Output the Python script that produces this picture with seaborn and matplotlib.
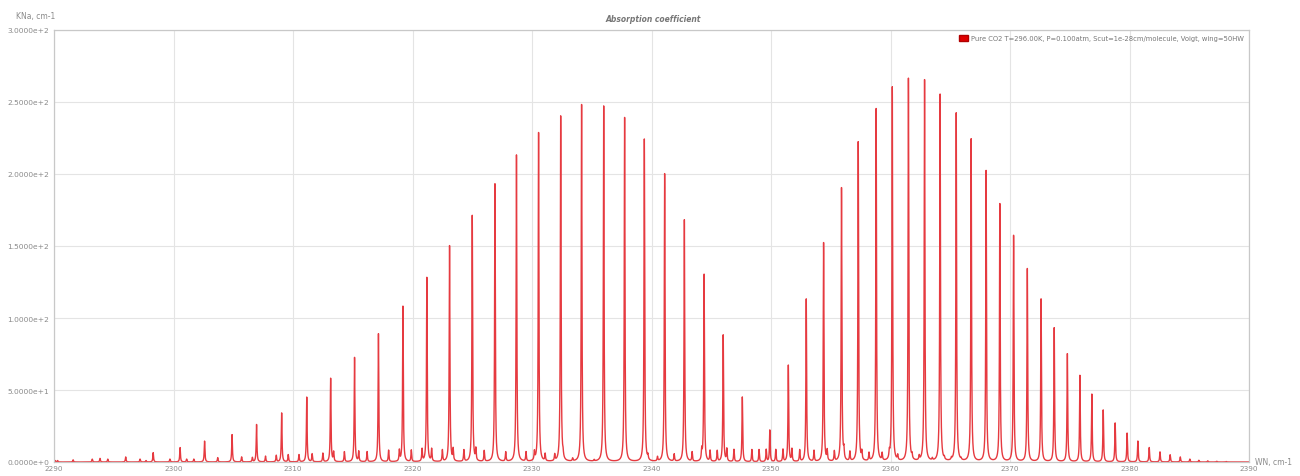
import numpy as np
import pandas as pd
import matplotlib
matplotlib.use("Agg")
import matplotlib.pyplot as plt
import matplotlib.patches as mpatches
import seaborn as sns

# ---- data ----
# main band (P and R branch) line centres [cm-1] and peak absorption [cm-1]
main_wn = [2290.1, 2291.6, 2293.85, 2296.0, 2298.3, 2300.55, 2302.6, 2304.9, 2306.95, 2309.05,
           2311.15, 2313.15, 2315.15, 2317.15, 2319.2, 2321.2, 2323.1, 2325.0, 2326.9, 2328.7,
           2330.55, 2332.4, 2334.15, 2336.0, 2337.75, 2339.4, 2341.1, 2342.75, 2344.4, 2346.0,
           2347.6,
           2349.9, 2351.45, 2352.95, 2354.4, 2355.9, 2357.3, 2358.8, 2360.15, 2361.5, 2362.85,
           2364.15, 2365.5, 2366.75, 2368.0, 2369.15, 2370.3, 2371.45, 2372.6, 2373.7, 2374.8,
           2375.85, 2376.85, 2377.8, 2378.8, 2379.8, 2380.7, 2381.65, 2382.55, 2383.4, 2384.25,
           2385.05, 2385.8, 2386.55, 2387.3, 2388.1]
main_k = [1.0, 1.5, 2.5, 3.5, 6.5, 10.0, 14.5, 19.0, 26.0, 34.0,
          45.0, 58.0, 72.5, 89.0, 108.0, 128.0, 150.0, 171.0, 193.0, 213.0,
          228.5, 240.0, 248.0, 247.0, 239.0, 224.0, 200.0, 168.0, 130.0, 88.0,
          45.0,
          22.0, 67.0, 113.0, 152.0, 190.0, 222.0, 245.0, 260.0, 266.0, 265.0,
          255.0, 242.0, 224.0, 202.0, 179.0, 157.0, 134.0, 113.0, 93.0, 75.0,
          60.0, 47.0, 36.0, 27.0, 20.0, 14.5, 10.0, 7.0, 5.0, 3.5,
          2.0, 1.2, 0.8, 0.5, 0.3]

# weak (hot band) lines
weak_wn = [2290.3, 2293.2, 2294.5, 2297.2, 2297.7, 2299.7, 2301.1, 2301.7, 2303.7, 2305.7,
           2306.6, 2307.7, 2308.6, 2309.6, 2310.5, 2311.6, 2312.5, 2313.4, 2314.3, 2315.5,
           2316.2, 2318.0, 2318.9, 2319.9, 2320.8, 2321.6, 2322.5, 2323.4, 2324.3, 2325.3,
           2326.0, 2327.8, 2329.5, 2330.2, 2331.1, 2331.9, 2332.6, 2333.4, 2335.2,
           2339.7, 2340.5, 2341.9, 2343.4, 2344.2, 2344.9, 2345.5, 2346.3, 2346.9, 2348.4,
           2349.0, 2349.6, 2350.4, 2351.0, 2351.75, 2352.4, 2353.6, 2354.7, 2355.3, 2356.1,
           2356.6, 2357.6, 2358.2, 2359.3, 2359.9, 2360.6, 2361.8, 2362.4, 2363.5, 2364.5,
           2365.1, 2365.9]
weak_k = [1.0, 2.0, 2.0, 2.0, 1.0, 2.0, 2.0, 2.0, 3.0, 3.5,
          3.0, 4.0, 4.5, 5.0, 5.0, 5.5, 6.0, 6.5, 7.0, 7.0,
          7.0, 8.0, 7.5, 8.0, 8.5, 8.5, 8.0, 8.0, 8.0, 8.0,
          7.5, 6.5, 6.5, 6.0, 5.0, 4.5, 3.0, 2.0, 1.0,
          3.0, 3.0, 5.0, 6.5, 7.0, 7.5, 7.5, 8.5, 8.5, 8.5,
          8.5, 8.5, 8.5, 8.5, 8.5, 8.0, 7.5, 7.0, 7.0, 6.5,
          6.5, 5.5, 5.5, 5.0, 4.5, 3.5, 3.0, 3.0, 1.5, 1.5,
          1.5, 1.0]

x_ticks = [2290, 2300, 2310, 2320, 2330, 2340, 2350, 2360, 2370, 2380, 2390]
y_ticks = [0, 50, 100, 150, 200, 250, 300]
y_tick_labels = ["0.0000e+0", "5.0000e+1", "1.0000e+2", "1.5000e+2",
                 "2.0000e+2", "2.5000e+2", "3.0000e+2"]
title = "Absorption coefficient"
y_label = "KNa, cm-1"
x_label = "WN, cm-1"
legend_label = "Pure CO2 T=296.00K, P=0.100atm, Scut=1e-28cm/molecule, Voigt, wing=50HW"

# ---- build spectrum from the line list (Lorentzian profiles) ----
centres = np.array(main_wn + weak_wn)
peaks = np.array(main_k + weak_k)
gamma = 0.035
grid = np.union1d(np.arange(2290.0, 2390.0001, 0.004), centres)
spec = np.zeros_like(grid)
for c, h in zip(centres, peaks):
    spec += h * gamma**2 / ((grid - c) ** 2 + gamma**2)
df = pd.DataFrame({"wn": grid, "k": spec})

# ---- plot ----
sns.set_theme(style="white")
plt.rcParams["font.family"] = ["DejaVu Sans"]

fig = plt.figure(figsize=(13.0, 4.77), dpi=100)
ax = fig.add_axes([54 / 1300, 1 - 463 / 477, (1249 - 54) / 1300, (463 - 31) / 477])

sns.lineplot(data=df, x="wn", y="k", ax=ax, color="#e63a40", linewidth=1.0,
             estimator=None, sort=False)

ax.set_xlim(2290, 2390)
ax.set_ylim(0, 300)
ax.set_xticks(x_ticks)
ax.set_xticklabels([str(t) for t in x_ticks])
ax.set_yticks(y_ticks)
ax.set_yticklabels(y_tick_labels)
ax.tick_params(axis="both", labelsize=5.4, labelcolor="#8a8a8a", length=0)
ax.tick_params(axis="x", pad=2.5, labelsize=5.2)
ax.tick_params(axis="y", pad=3.5)
ax.grid(True, color="#e4e4e4", linewidth=0.8)
ax.set_axisbelow(True)
for side in ["left", "right", "top", "bottom"]:
    ax.spines[side].set_color("#c8c8c8")
    ax.spines[side].set_linewidth(0.9)
ax.set_xlabel("")
ax.set_ylabel("")

fig.text(653 / 1300, 1 - 20 / 477, title, ha="center", va="center",
         fontsize=5.5, style="italic", fontweight="bold", color="#777777")
fig.text(36 / 1300, 1 - 17 / 477, y_label, ha="center", va="center",
         fontsize=5.5, color="#8a8a8a")
fig.text(1255 / 1300, 1 - 463 / 477, x_label, ha="left", va="center",
         fontsize=5.5, color="#8a8a8a")

handle = mpatches.Patch(facecolor="#e00000", edgecolor="#b00000", label=legend_label)
leg = ax.legend(handles=[handle], loc="upper right", fontsize=4.9, frameon=False,
                handlelength=1.3, handleheight=0.9, borderaxespad=0.35, handletextpad=0.5)
for t in leg.get_texts():
    t.set_color("#777777")

fig.savefig("out.png", dpi=100, facecolor="white")
